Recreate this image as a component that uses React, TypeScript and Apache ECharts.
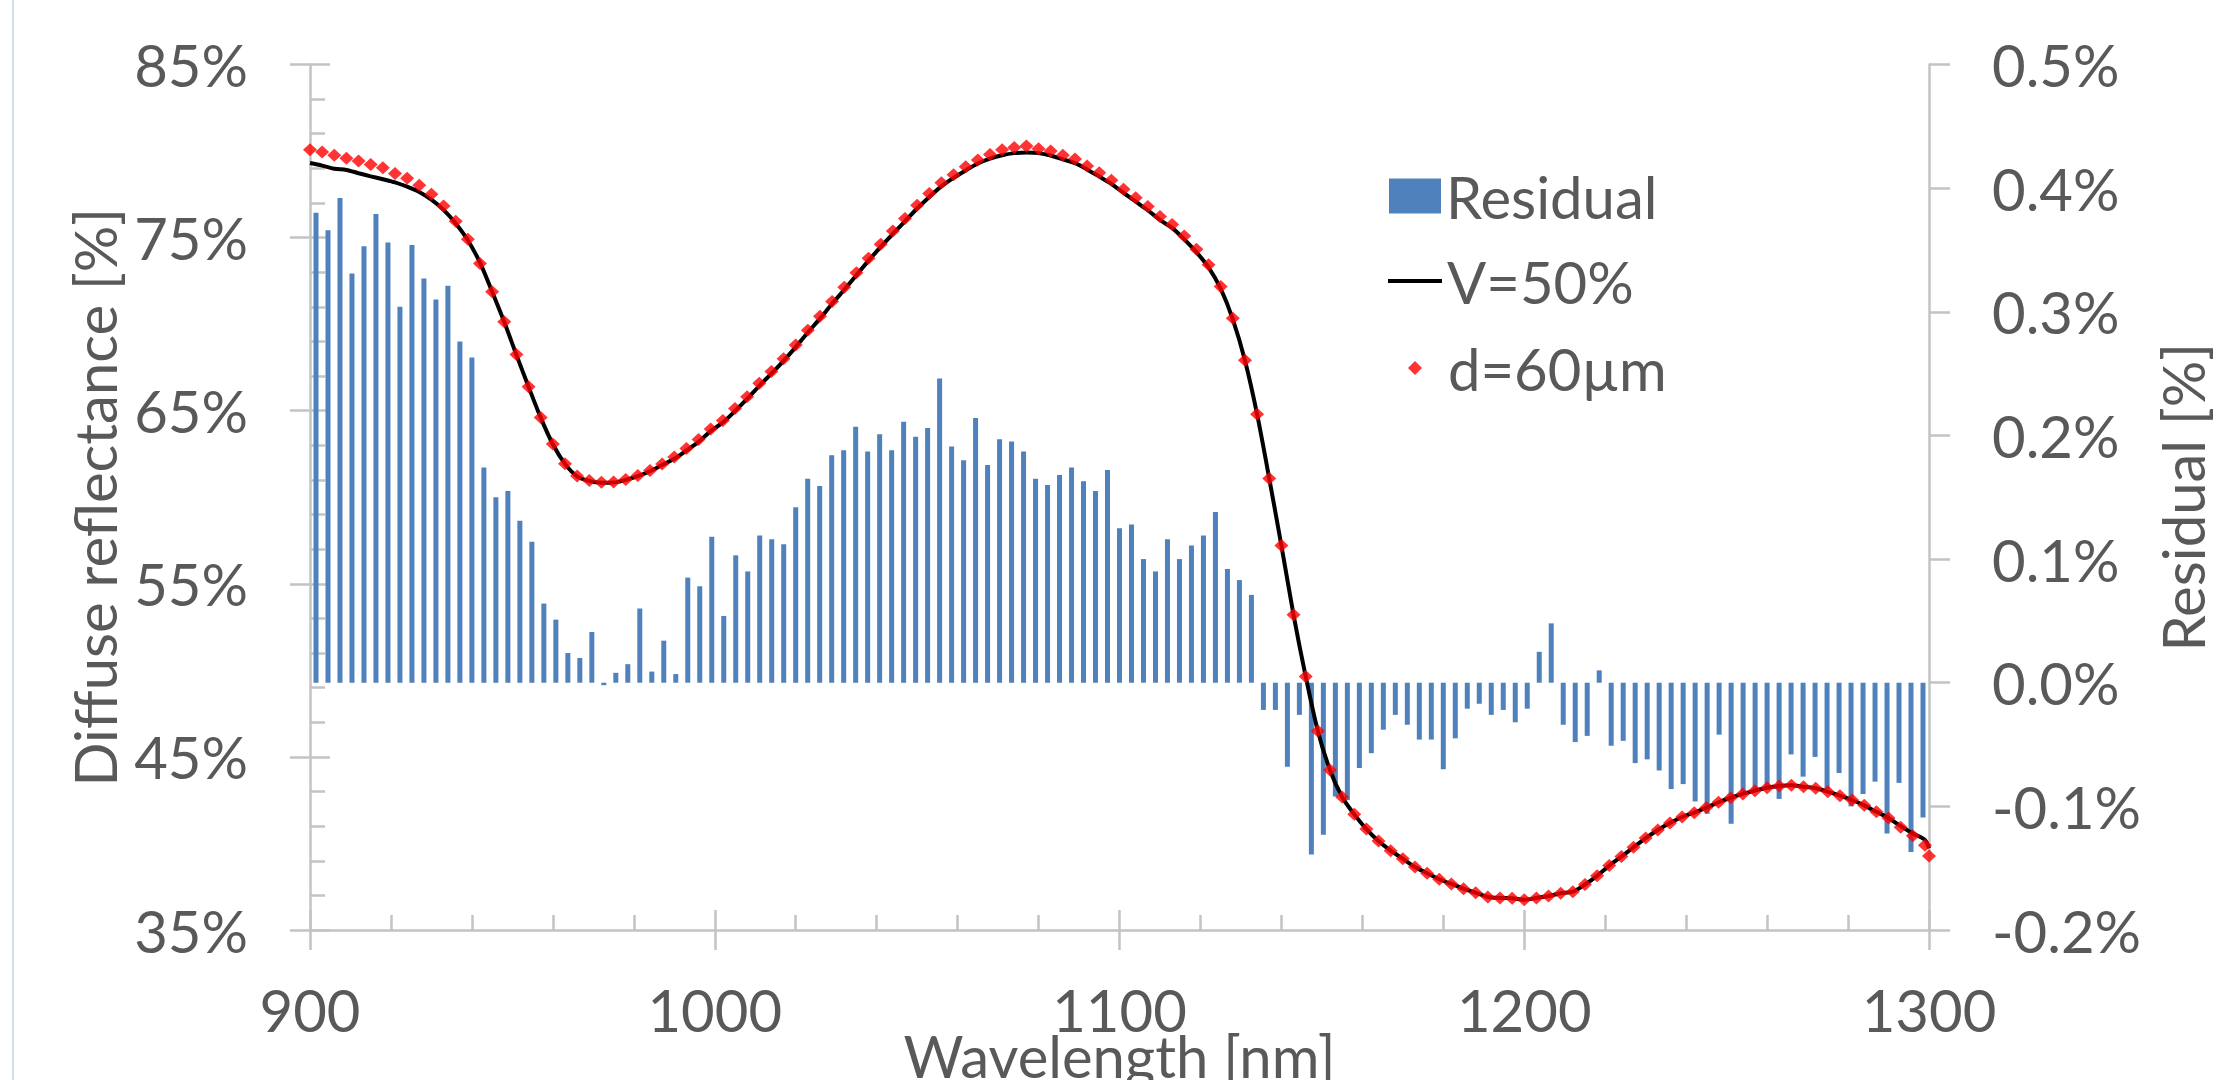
import React, { useEffect, useRef } from 'react';
import * as echarts from 'echarts';

// Sampling grid (nm): 3 nm steps plus the 1300 nm end point
const wavelengths: number[] = [...Array.from({ length: 134 }, (_, i) => 900 + 3 * i), 1300];

// Residual [%] (bars, right axis)
const residual: number[] = [
  0.380, 0.366, 0.392, 0.331, 0.353, 0.379, 0.356, 0.304, 0.354, 0.327,
  0.310, 0.321, 0.276, 0.263, 0.174, 0.150, 0.155, 0.131, 0.114, 0.064,
  0.051, 0.024, 0.020, 0.041, -0.002, 0.008, 0.015, 0.060, 0.009, 0.034,
  0.007, 0.085, 0.078, 0.118, 0.054, 0.103, 0.090, 0.119, 0.116, 0.112,
  0.142, 0.165, 0.159, 0.184, 0.188, 0.207, 0.187, 0.201, 0.188, 0.211,
  0.199, 0.206, 0.246, 0.191, 0.180, 0.214, 0.176, 0.197, 0.195, 0.187,
  0.165, 0.160, 0.168, 0.174, 0.163, 0.155, 0.172, 0.125, 0.128, 0.100,
  0.090, 0.116, 0.100, 0.111, 0.119, 0.138, 0.092, 0.083, 0.071, -0.022,
  -0.022, -0.068, -0.026, -0.139, -0.123, -0.092, -0.095, -0.069, -0.057, -0.038,
  -0.026, -0.034, -0.046, -0.046, -0.070, -0.045, -0.021, -0.017, -0.026, -0.022,
  -0.032, -0.021, 0.025, 0.048, -0.034, -0.048, -0.043, 0.010, -0.051, -0.047,
  -0.065, -0.062, -0.071, -0.086, -0.082, -0.096, -0.106, -0.042, -0.114, -0.090,
  -0.086, -0.084, -0.094, -0.058, -0.076, -0.060, -0.086, -0.073, -0.100, -0.090,
  -0.080, -0.122, -0.081, -0.137, -0.109,
];

// Diffuse reflectance [%], model V=50% (black line)
const modelV50: number[] = [
  79.31, 79.16, 78.98, 78.91, 78.72, 78.54, 78.37, 78.19, 77.94, 77.64,
  77.19, 76.60, 75.82, 74.85, 73.55, 71.87, 70.12, 68.22, 66.38, 64.60,
  63.06, 61.93, 61.21, 60.94, 60.84, 60.85, 61.00, 61.22, 61.50, 61.86,
  62.22, 62.70, 63.20, 63.82, 64.32, 64.98, 65.68, 66.44, 67.14, 67.88,
  68.67, 69.52, 70.32, 71.18, 71.99, 72.83, 73.67, 74.46, 75.22, 75.94,
  76.68, 77.35, 77.96, 78.45, 78.88, 79.28, 79.56, 79.76, 79.88, 79.92,
  79.88, 79.74, 79.52, 79.30, 78.94, 78.53, 78.10, 77.58, 77.08, 76.58,
  76.02, 75.56, 74.90, 74.16, 73.28, 72.05, 70.28, 67.90, 64.79, 61.08,
  57.21, 53.21, 49.65, 46.50, 44.24, 42.68, 41.68, 40.83, 40.14, 39.58,
  39.12, 38.64, 38.28, 37.93, 37.66, 37.39, 37.15, 36.91, 36.85, 36.83,
  36.75, 36.85, 36.96, 37.12, 37.21, 37.63, 38.13, 38.72, 39.24, 39.78,
  40.31, 40.78, 41.18, 41.53, 41.78, 42.07, 42.38, 42.64, 42.86, 43.05,
  43.22, 43.32, 43.36, 43.28, 43.19, 42.99, 42.76, 42.51, 42.20, 41.83,
  41.47, 41.00, 40.58, 40.20, 39.72,
];

// Diffuse reflectance [%], d=60µm (red diamonds)
const fitD60: number[] = [
  80.07, 79.94, 79.76, 79.58, 79.43, 79.23, 79.03, 78.70, 78.43, 78.03,
  77.51, 76.82, 75.94, 74.90, 73.50, 71.87, 70.14, 68.24, 66.39, 64.61,
  63.07, 61.94, 61.23, 60.97, 60.86, 60.88, 61.03, 61.26, 61.55, 61.92,
  62.32, 62.82, 63.33, 63.95, 64.44, 65.12, 65.81, 66.58, 67.27, 68.00,
  68.80, 69.65, 70.45, 71.31, 72.13, 72.97, 73.81, 74.61, 75.38, 76.11,
  76.87, 77.55, 78.17, 78.63, 79.09, 79.49, 79.80, 80.07, 80.20, 80.29,
  80.14, 80.00, 79.76, 79.54, 79.14, 78.74, 78.32, 77.79, 77.30, 76.80,
  76.22, 75.76, 75.09, 74.32, 73.43, 72.17, 70.34, 67.91, 64.79, 61.08,
  57.21, 53.21, 49.65, 46.50, 44.24, 42.68, 41.68, 40.83, 40.14, 39.58,
  39.12, 38.64, 38.28, 37.93, 37.66, 37.39, 37.15, 36.91, 36.85, 36.83,
  36.75, 36.85, 36.96, 37.12, 37.21, 37.63, 38.13, 38.72, 39.24, 39.78,
  40.31, 40.78, 41.18, 41.53, 41.78, 42.07, 42.38, 42.64, 42.86, 43.05,
  43.22, 43.32, 43.36, 43.28, 43.19, 42.99, 42.76, 42.51, 42.20, 41.83,
  41.47, 40.93, 40.45, 39.89, 39.27,
];

const FONT = 'Lato';
const TEXT = '#595959';
const AXIS = '#c3c3c3';
const BAR = '#4F81BD';

export default function App() {
  const ref = useRef<HTMLDivElement>(null);

  useEffect(() => {
    if (!ref.current) return;
    const chart = echarts.init(ref.current, undefined, { renderer: 'svg' });
    const axisLineStyle = { color: AXIS, width: 2.5 };
    const labelStyle = { fontSize: 58, color: TEXT, fontFamily: FONT };
    const nameStyle = { fontSize: 58, color: TEXT, fontFamily: FONT };

    const option: any = {
      animation: false,
      backgroundColor: '#ffffff',
      textStyle: { fontFamily: FONT },
      grid: {
        left: 310,
        right: 303,
        top: 64.5,
        bottom: 150,
        containLabel: false,
        outerBoundsMode: 'none',
      },
      graphic: [
        {
          type: 'rect',
          shape: { x: 12, y: 0, width: 2, height: 1080 },
          style: { fill: '#d5dde8' },
          silent: true,
        },
      ],
      legend: [
        {
          data: [{ name: 'Residual', icon: 'rect' }],
          left: 1389,
          top: 167,
          padding: 0,
          itemWidth: 52,
          itemHeight: 35,
          selectedMode: false,
          textStyle: { ...labelStyle, lineHeight: 58 },
        },
        {
          data: [{ name: 'V=50%', icon: 'rect', itemStyle: { color: '#000000' } }],
          left: 1388,
          top: 252,
          padding: 0,
          itemWidth: 54,
          itemHeight: 4,
          selectedMode: false,
          textStyle: { ...labelStyle, lineHeight: 58 },
        },
        {
          data: [{ name: 'd=60µm', icon: 'diamond' }],
          left: 1408,
          top: 339,
          padding: 0,
          itemWidth: 14,
          itemHeight: 14,
          selectedMode: false,
          textStyle: { ...labelStyle, lineHeight: 58, padding: [0, 0, 0, 21] },
        },
      ],
      xAxis: [
        {
          type: 'value',
          min: 900,
          max: 1300,
          interval: 100,
          position: 'bottom',
          axisLine: { show: true, onZero: false, lineStyle: axisLineStyle },
          axisTick: { show: true, inside: false, length: 20, lineStyle: axisLineStyle },
          axisLabel: {
            ...labelStyle,
            lineHeight: 44,
            margin: 57,
            formatter: (v: number) => String(Math.round(v)),
          },
          splitLine: { show: false },
          name: 'Wavelength [nm]',
          nameLocation: 'middle',
          nameGap: 103,
          nameMoveOverlap: false,
          nameTextStyle: { ...nameStyle, lineHeight: 44 },
        },
        {
          type: 'category',
          data: wavelengths.map(String),
          position: 'bottom',
          show: false,
          boundaryGap: true,
          axisLine: { onZero: false },
        },
        {
          type: 'value',
          min: 900,
          max: 1300,
          interval: 100,
          position: 'bottom',
          axisLine: { show: false, onZero: false },
          axisTick: { show: true, inside: true, length: 20, lineStyle: axisLineStyle },
          minorTick: { show: true, splitNumber: 5, length: 15, lineStyle: axisLineStyle },
          axisLabel: { show: false },
          splitLine: { show: false },
        },
      ],
      yAxis: [
        {
          type: 'value',
          min: 35,
          max: 85,
          interval: 10,
          position: 'left',
          axisLine: { show: true, onZero: false, lineStyle: axisLineStyle },
          axisTick: { show: true, inside: false, length: 20, lineStyle: axisLineStyle },
          axisLabel: { ...labelStyle, margin: 62, formatter: (v: number) => `${Math.round(v)}%` },
          splitLine: { show: false },
          name: 'Diffuse reflectance [%]',
          nameLocation: 'middle',
          nameGap: 180,
          nameTextStyle: nameStyle,
        },
        {
          type: 'value',
          min: -0.2,
          max: 0.5,
          interval: 0.1,
          position: 'right',
          axisLine: { show: true, onZero: false, lineStyle: axisLineStyle },
          axisTick: { show: true, inside: false, length: 21, lineStyle: axisLineStyle },
          axisLabel: { ...labelStyle, margin: 63, formatter: (v: number) => `${v.toFixed(1)}%` },
          splitLine: { show: false },
          name: 'Residual [%]',
          nameLocation: 'middle',
          nameGap: 224,
          nameTextStyle: nameStyle,
        },
        {
          type: 'value',
          min: 35,
          max: 85,
          interval: 10,
          position: 'left',
          axisLine: { show: false, onZero: false },
          axisTick: { show: true, inside: true, length: 20, lineStyle: axisLineStyle },
          minorTick: { show: true, splitNumber: 5, length: 15, lineStyle: axisLineStyle },
          axisLabel: { show: false },
          splitLine: { show: false },
        },
      ],
      series: [
        {
          name: 'Residual',
          type: 'bar',
          xAxisIndex: 1,
          yAxisIndex: 1,
          data: residual,
          barWidth: 5,
          itemStyle: { color: BAR },
          z: 1,
        },
        {
          name: 'V=50%',
          type: 'line',
          xAxisIndex: 0,
          yAxisIndex: 0,
          data: wavelengths.map((w, i) => [w, modelV50[i]]),
          symbol: 'none',
          smooth: 0.3,
          lineStyle: { color: '#000000', width: 4 },
          itemStyle: { color: '#000000' },
          z: 2,
        },
        {
          name: 'd=60µm',
          type: 'scatter',
          xAxisIndex: 0,
          yAxisIndex: 0,
          data: wavelengths.map((w, i) => [w, fitD60[i]]),
          symbol: 'diamond',
          symbolSize: [14, 13],
          itemStyle: { color: '#FF0000' },
          z: 3,
        },
      ],
    };

    chart.setOption(option);
    return () => chart.dispose();
  }, []);

  return (
    <div
      ref={ref}
      style={{ position: 'fixed', left: 0, top: 0, width: 2232, height: 1080, background: '#fff' }}
    />
  );
}
